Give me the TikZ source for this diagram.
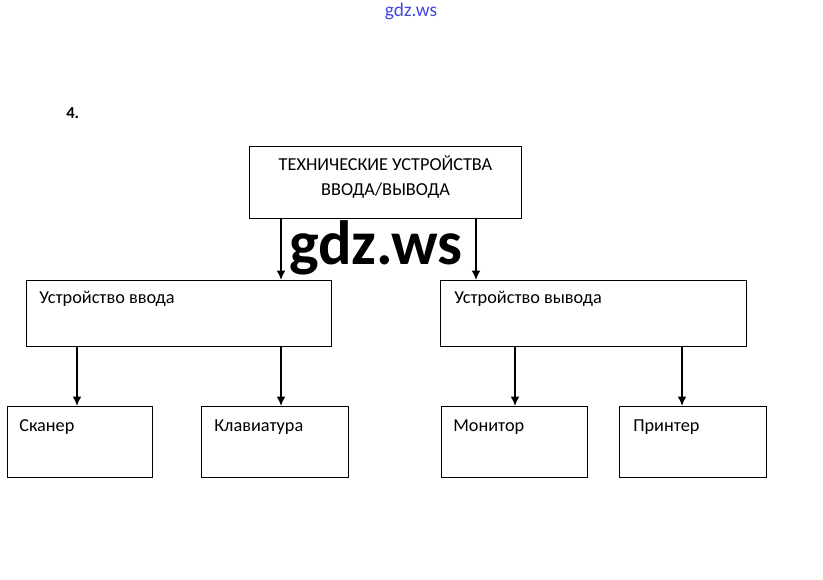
\documentclass[tikz,border=0pt]{standalone}
\usepackage{fontspec}
\setmainfont{Carlito}
\usetikzlibrary{positioning,calc,arrows.meta}
\definecolor{markblue}{RGB}{70,70,225}

\begin{document}
\begin{tikzpicture}[x=0.75pt, y=-0.75pt, >={Latex[length=7pt,width=6.5pt]},
  box/.style 2 args={draw, line width=0.75pt, anchor=north west, inner sep=0pt,
    minimum width=#1*0.75pt, minimum height=#2*0.75pt},
  caption/.style={anchor=base west, inner sep=0pt, font=\fontsize{13.7}{16}\selectfont},
  arr/.style={->, line width=1.1pt}]
\fill[white] (0,0) rectangle (823,580);
\useasboundingbox (0,0) rectangle (823,580);
\node[anchor=base, inner sep=0pt, text=markblue, font=\fontsize{14.5}{15}\selectfont] (site) at (411,17) {gdz.ws};
\node[anchor=base west, inner sep=0pt, font=\bfseries\fontsize{12.5}{12}\selectfont] (num) at (66,119) {4.};
% boxes
\node[box={272}{72}] (tech) at (249,146) {};
\node[box={305}{66}] (inp) at (26,280) {};
\node[box={306}{66}] (outp) at (440,280) {};
\node[box={145}{71}] (scan) at (7,406) {};
\node[box={147}{71}] (keyb) at (201,406) {};
\node[box={146}{71}] (mon) at (441,406) {};
\node[box={147}{71}] (prn) at (619,406) {};
% texts
\node[align=center, inner sep=0pt, font=\fontsize{13.7}{18.75}\selectfont] (techt) at ($(tech.north)+(0,31)$) {ТЕХНИЧЕСКИЕ УСТРОЙСТВА\\ВВОДА/ВЫВОДА};
\node[caption] (inpt) at ($(inp.north west)+(13,24)$) {Устройство ввода};
\node[caption] (outpt) at ($(outp.north west)+(14,24)$) {Устройство вывода};
\node[caption] (scant) at ($(scan.north west)+(12,25)$) {Сканер};
\node[caption] (keybt) at ($(keyb.north west)+(13,25)$) {Клавиатура};
\node[caption] (mont) at ($(mon.north west)+(12,25)$) {Монитор};
\node[caption] (prnt) at ($(prn.north west)+(14,25)$) {Принтер};
% arrows
\draw[arr] ($(tech.south west)+(32,0)$) -- ($(inp.north west)+(255,0)$);
\draw[arr] ($(tech.south west)+(227,0)$) -- ($(outp.north west)+(36,0)$);
\draw[arr] ($(inp.south west)+(51,0)$) -- ($(scan.north west)+(70,0)$);
\draw[arr] ($(inp.south west)+(255,0)$) -- ($(keyb.north west)+(80,0)$);
\draw[arr] ($(outp.south west)+(75,0)$) -- ($(mon.north west)+(74,0)$);
\draw[arr] ($(outp.south west)+(242,0)$) -- ($(prn.north west)+(63,0)$);
\node[anchor=base, inner sep=0pt, font=\bfseries\fontsize{46.9}{47}\selectfont] (mark) at (376,265) {gdz.ws};
\end{tikzpicture}
\end{document}
